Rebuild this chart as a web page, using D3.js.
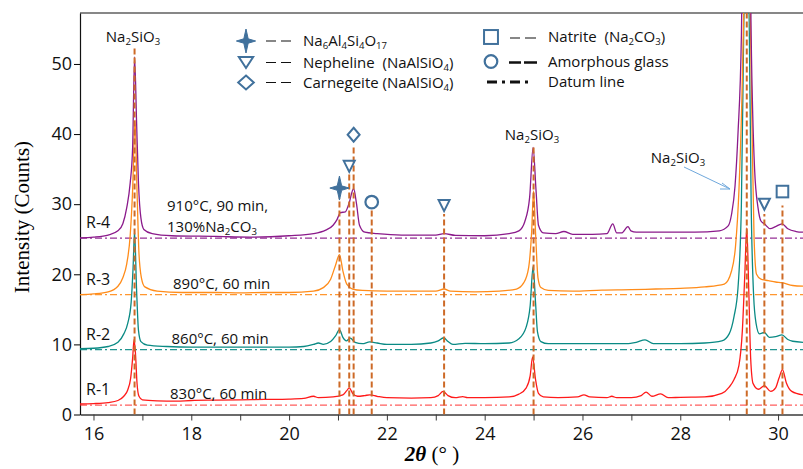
<!DOCTYPE html>
<html>
<head>
<meta charset="utf-8">
<script src="https://cdn.jsdelivr.net/npm/d3@7"></script>
<style>
  body { margin: 0; background: #fff; }
  svg text { font-family: "Open Sans", Lato, sans-serif; }
</style>
</head>
<body>
<div id="chart"></div>
<script>
// ---- data: [2theta, intensity] ----
const r1Points = [[15.72,1.5],[16.0,1.55],[16.3,1.7],[16.5,2.0],[16.62,2.6],[16.7,3.5],[16.76,5.2],[16.8,8.0],[16.83,10.7],[16.86,8.5],[16.89,4.5],[16.93,2.6],[17.0,2.1],[17.3,1.95],[17.7,1.9],[18.0,2.0],[18.5,2.05],[19.0,2.1],[19.5,2.15],[20.0,2.2],[20.3,2.3],[20.5,2.6],[20.6,2.4],[20.9,2.5],[21.1,2.8],[21.18,3.4],[21.23,3.8],[21.3,3.0],[21.4,2.6],[21.55,2.7],[21.65,2.8],[21.8,2.6],[22.0,2.4],[22.5,2.35],[22.9,2.4],[23.05,2.7],[23.15,3.3],[23.25,2.7],[23.4,2.4],[23.55,2.55],[23.65,2.4],[24.0,2.4],[24.5,2.5],[24.7,2.9],[24.85,3.8],[24.93,5.5],[24.98,8.2],[25.04,5.0],[25.1,3.0],[25.2,2.5],[25.5,2.4],[25.9,2.5],[26.03,2.8],[26.15,2.5],[26.5,2.4],[26.6,2.6],[26.7,2.4],[27.0,2.4],[27.2,2.7],[27.3,3.2],[27.42,2.6],[27.6,2.95],[27.75,2.4],[28.0,2.45],[28.5,2.5],[28.85,3.0],[29.0,3.9],[29.1,5.0],[29.2,7.0],[29.27,12],[29.32,20],[29.36,26.6],[29.4,18],[29.44,8],[29.49,4.4],[29.6,3.6],[29.72,4.1],[29.85,3.3],[29.95,3.8],[30.02,5.2],[30.09,6.4],[30.17,4.5],[30.28,3.3],[30.51,2.8]];
const r2Points = [[15.72,9.4],[16.0,9.45],[16.3,9.7],[16.5,10.3],[16.62,11.5],[16.7,13.0],[16.77,16],[16.81,21],[16.84,26.1],[16.88,18],[16.92,12],[16.97,10.4],[17.1,9.9],[17.5,9.7],[18.0,9.6],[18.5,9.6],[19.0,9.6],[19.5,9.6],[20.0,9.6],[20.3,9.7],[20.5,10.0],[20.6,10.2],[20.7,10.0],[20.85,10.4],[20.95,11.2],[21.03,12.1],[21.1,11.0],[21.17,10.5],[21.25,10.9],[21.35,10.3],[21.5,10.1],[21.65,10.35],[21.8,10.2],[22.0,10.0],[22.5,10.0],[22.9,10.2],[23.05,10.5],[23.16,10.95],[23.25,10.4],[23.35,10.0],[23.6,10.15],[24.0,10.1],[24.5,10.2],[24.7,10.8],[24.85,12.5],[24.93,15.5],[24.99,21.1],[25.04,16],[25.08,11.8],[25.15,10.4],[25.3,10.1],[25.8,10.1],[26.2,10.1],[26.9,10.1],[27.1,10.3],[27.28,10.65],[27.45,10.1],[28.0,10.1],[28.5,10.2],[28.85,10.5],[29.0,11.5],[29.1,14],[29.18,18],[29.25,30],[29.3,56],[29.36,75],[29.41,56],[29.45,30],[29.5,17],[29.55,13],[29.62,11.5],[29.72,11.7],[29.82,11.0],[29.95,11.1],[30.08,11.35],[30.2,10.7],[30.3,10.45],[30.51,10.3]];
const r3Points = [[15.72,17.1],[16.0,17.2],[16.3,17.5],[16.5,18.3],[16.6,19.5],[16.68,21.5],[16.75,25.5],[16.8,32],[16.85,42],[16.89,32],[16.93,23],[16.98,19.5],[17.05,18.2],[17.3,17.6],[17.8,17.4],[18.5,17.4],[19.0,17.35],[19.5,17.4],[20.0,17.4],[20.5,17.6],[20.7,18.1],[20.85,19.3],[20.95,21.3],[21.03,22.8],[21.1,20.5],[21.18,18.6],[21.3,17.9],[21.5,17.7],[22.0,17.6],[22.5,17.6],[23.0,17.6],[23.17,17.9],[23.3,17.6],[23.8,17.5],[24.3,17.6],[24.65,17.9],[24.8,18.8],[24.9,21],[24.96,26],[25.0,31.9],[25.04,26],[25.09,19.5],[25.15,18.1],[25.3,17.7],[25.8,17.6],[26.4,17.75],[27.0,17.8],[27.5,17.9],[28.0,18.0],[28.5,18.2],[28.9,18.6],[29.05,20.5],[29.13,24],[29.2,32],[29.26,45],[29.3,58],[29.37,80],[29.43,58],[29.47,40],[29.51,25],[29.56,20],[29.65,19.3],[29.8,19.1],[29.95,18.9],[30.08,18.8],[30.3,18.4],[30.51,18.3]];
const r4Points = [[15.72,25.2],[16.0,25.3],[16.3,25.6],[16.5,26.2],[16.6,27.2],[16.68,29.5],[16.75,33],[16.8,38],[16.84,51],[16.88,42],[16.92,33],[16.97,28],[17.03,26.4],[17.2,25.8],[17.6,25.5],[18.5,25.4],[19.2,25.3],[20.0,25.5],[20.5,25.8],[20.75,26.3],[20.9,27.0],[20.98,27.8],[21.05,28.8],[21.15,28.9],[21.22,30],[21.32,32.2],[21.38,30],[21.44,27],[21.55,26.0],[21.8,25.8],[22.3,25.6],[23.0,25.6],[23.17,25.8],[23.4,25.55],[24.0,25.5],[24.5,25.8],[24.7,26.2],[24.82,27.5],[24.92,31],[24.99,38.1],[25.05,32],[25.1,27],[25.2,25.9],[25.45,25.8],[25.62,26.1],[25.8,25.7],[26.2,25.7],[26.5,25.8],[26.62,27.2],[26.7,25.9],[26.8,25.9],[26.93,26.8],[26.99,26.2],[27.1,26.0],[27.6,26.0],[28.3,26.0],[28.8,26.2],[28.98,26.9],[29.05,28.6],[29.12,32.6],[29.18,40],[29.25,54],[29.3,80],[29.37,110],[29.45,54],[29.52,35],[29.59,29.5],[29.65,27.6],[29.72,27.2],[29.84,26.5],[29.95,26.8],[30.08,27.2],[30.2,26.5],[30.37,26.1],[30.51,26.0]];

const seriesNames  = ['R-1', 'R-2', 'R-3', 'R-4'];
const seriesColors = ['#ff1a1a', '#0a8a84', '#ff8c1a', '#8b1a8b'];
const datumLevels  = [1.35, 9.25, 17.1, 25.15];
const conditions   = [['830°C, 60 min'], ['860°C, 60 min'], ['890°C, 60 min'], ['910°C, 90 min,', '130%Na2CO3']];

// reference lines: position, top value (intensity), marker
const refPos     = [16.84, 21.03, 21.23, 21.32, 21.69, 23.17, 25.0, 29.36, 29.72, 30.09];
const refTop     = [52.5, 30.9, 34.3, 38.5, 29.2, 28.6, 38.5, 57.3, 28.6, 29.8];
const refMarker  = [null, 'star', 'tri', 'diamond', 'circle', 'tri', null, null, 'tri', 'square'];
const refMarkerY = [null, 32.3, 35.4, 39.9, 30.3, 29.8, null, null, 30.0, 31.8];

const xTicks = d3.range(16, 31, 1);
const yTicks = [0, 10, 20, 30, 40, 50];

// ---- layout ----
const W = 803, H = 469;
const x = d3.scaleLinear().domain([15.724, 30.51]).range([80, 803]);
const y = d3.scaleLinear().domain([0, 57.27]).range([414.5, 13]);
const refColor = '#cd6a27';
const mkColor  = '#41719c';
const fs = 15;

const svg = d3.select('#chart').append('svg').attr('width', W).attr('height', H);

svg.append('defs').append('clipPath').attr('id', 'plot')
  .append('rect').attr('x', 80).attr('y', 13).attr('width', W - 80).attr('height', 414.5 - 13);

// chemical formula helper: digits following a letter become subscripts
function chem(sel, str, size) {
  const parts = str.match(/\d+|[^\d]+/g);
  let shift = 0;
  parts.forEach((p, i) => {
    const isSub = /^\d+$/.test(p) && i > 0 && /[A-Za-z)]$/.test(parts[i - 1]);
    const target = isSub ? size * 0.22 : 0;
    sel.append('tspan')
      .attr('font-size', isSub ? size * 0.64 : size)
      .attr('dy', target - shift)
      .text(p);
    shift = target;
  });
  return sel;
}

// symbols
function star(r, w) {
  return `M0,${-r}L${w},${-w}L${r * 0.8},0L${w},${w}L0,${r}L${-w},${w}L${-r * 0.8},0L${-w},${-w}Z`;
}
function drawMarker(g, type, cx, cy, s) {
  s = s || 1;
  if (type === 'star') {
    g.append('path').attr('d', star(12 * s, 2.2 * s)).attr('transform', `translate(${cx},${cy})`)
      .attr('fill', mkColor).attr('stroke', mkColor).attr('stroke-width', 1);
  } else if (type === 'tri') {
    const w = 5.5 * s, h = 11;
    g.append('path').attr('d', `M${-w},${-h / 2}L${w},${-h / 2}L0,${h / 2}Z`)
      .attr('transform', `translate(${cx},${cy})`)
      .attr('fill', 'none').attr('stroke', mkColor).attr('stroke-width', 2);
  } else if (type === 'diamond') {
    g.append('path').attr('d', `M0,-7L${6 * s},0L0,7L${-6 * s},0Z`)
      .attr('transform', `translate(${cx},${cy})`)
      .attr('fill', 'none').attr('stroke', mkColor).attr('stroke-width', 2);
  } else if (type === 'circle') {
    g.append('circle').attr('cx', cx).attr('cy', cy).attr('r', 6.3)
      .attr('fill', 'none').attr('stroke', mkColor).attr('stroke-width', 2.2);
  } else if (type === 'square') {
    const a = 5.8 * s;
    g.append('rect').attr('x', cx - a).attr('y', cy - a).attr('width', 2 * a).attr('height', 2 * a)
      .attr('fill', 'none').attr('stroke', mkColor).attr('stroke-width', 2);
  }
}

// ---- axes ----
const xAxis = svg.append('g').attr('transform', 'translate(0,414.5)')
  .call(d3.axisBottom(x).tickValues(xTicks).tickSize(6).tickSizeOuter(0)
    .tickFormat(d => d % 2 === 0 ? d : ''));
xAxis.select('.domain').attr('stroke', '#3a3a3a').attr('stroke-width', 1.6);
xAxis.selectAll('.tick line').attr('stroke', '#3a3a3a');
xAxis.selectAll('text').attr('font-family', '"Liberation Sans", Arial, sans-serif')
  .attr('font-size', 18).attr('fill', '#111').attr('dy', '0.9em');

const yAxis = svg.append('g').attr('transform', 'translate(80,0)')
  .call(d3.axisLeft(y).tickValues(yTicks).tickSize(6).tickSizeOuter(0));
yAxis.select('.domain').attr('stroke', '#111').attr('stroke-width', 1.2);
yAxis.selectAll('text').attr('font-family', '"Liberation Sans", Arial, sans-serif')
  .attr('font-size', 18).attr('fill', '#111').attr('x', -8);

svg.append('line').attr('x1', 80).attr('x2', W).attr('y1', 13).attr('y2', 13)
  .attr('stroke', '#111').attr('stroke-width', 1.2);

// axis titles
svg.append('text').attr('transform', 'translate(29,217) rotate(-90)')
  .attr('text-anchor', 'middle').attr('font-size', 21)
  .style('font-family', '"Liberation Serif", "Times New Roman", serif')
  .text('Intensity (Counts)');
const xt = svg.append('text').attr('x', 432).attr('y', 461).attr('text-anchor', 'middle')
  .style('font-family', '"Liberation Serif", "Times New Roman", serif').attr('font-size', 21);
xt.append('tspan').attr('font-weight', 'bold').attr('font-style', 'italic').text('2θ');
xt.append('tspan').text(' (°  )');

// ---- plot ----
const plot = svg.append('g').attr('clip-path', 'url(#plot)');
const allSeries = [r1Points, r2Points, r3Points, r4Points];

// datum lines
datumLevels.forEach((v, i) => {
  plot.append('line').attr('x1', 80).attr('x2', W).attr('y1', y(v)).attr('y2', y(v))
    .attr('stroke', seriesColors[i]).attr('stroke-width', 1.2)
    .attr('stroke-dasharray', '7,3,2,3').attr('opacity', i === 0 ? 0.7 : 0.9);
});

const line = d3.line().x(d => x(d[0])).y(d => y(d[1])).curve(d3.curveMonotoneX);
allSeries.forEach((pts, i) => {
  plot.append('path').datum(pts).attr('d', line)
    .attr('fill', 'none').attr('stroke', seriesColors[i]).attr('stroke-width', 1.3);
});

// reference dashed lines
refPos.forEach((p, i) => {
  plot.append('line').attr('x1', x(p)).attr('x2', x(p)).attr('y1', y(0)).attr('y2', y(refTop[i]))
    .attr('stroke', refColor).attr('stroke-width', 2).attr('stroke-dasharray', '6,3');
});
refPos.forEach((p, i) => {
  if (refMarker[i]) drawMarker(svg, refMarker[i], x(p), y(refMarkerY[i]));
});

// series labels
seriesNames.forEach((n, i) => {
  svg.append('text').attr('x', 86).attr('y', y(datumLevels[i]) - 10).attr('font-size', 16)
    .attr('fill', '#111').text(n);
  conditions[i].forEach((c, k) => {
    const t = svg.append('text').attr('x', i === 3 ? 167 : 170 + i * 1.5)
      .attr('y', y(datumLevels[i]) - 6 - (conditions[i].length - 1 - k) * 21)
      .attr('font-size', fs).attr('fill', '#111');
    chem(t, c, fs);
  });
});

// phase labels
[[133, 42], [532, 140], [678, 163]].forEach(([lx, ly]) => {
  chem(svg.append('text').attr('x', lx).attr('y', ly).attr('text-anchor', 'middle')
    .attr('font-size', fs).attr('fill', '#111'), 'Na2SiO3', fs);
});

// arrow
svg.append('line').attr('x1', 684).attr('y1', 167).attr('x2', 730).attr('y2', 189)
  .attr('stroke', '#6fa8dc').attr('stroke-width', 1);
svg.append('path').attr('d', 'M722,183L730,189L720,189')
  .attr('fill', 'none').attr('stroke', '#6fa8dc').attr('stroke-width', 1);

// ---- legend ----
const leg = svg.append('g');
const legRowsL = [['star', 'Na6Al4Si4O17', 41], ['tri', 'Nepheline  (NaAlSiO4)', 62.5], ['diamond', 'Carnegeite (NaAlSiO4)', 82.5]];
legRowsL.forEach(([m, label, cy]) => {
  drawMarker(leg, m, 246, cy, m === 'star' ? 1 : 1.3);
  leg.append('path').attr('d', `M266,${cy}h10M281,${cy}h10`).attr('stroke', '#111').attr('stroke-width', 1.2);
  chem(leg.append('text').attr('x', 303).attr('y', cy + 5).attr('font-size', fs).attr('fill', '#111')
    .style('white-space', 'pre'), label, fs);
});
const legRowsR = [['square', 'Natrite  (Na2CO3)', 37], ['circle', 'Amorphous glass', 61.5], [null, 'Datum line', 82]];
legRowsR.forEach(([m, label, cy], k) => {
  if (m) drawMarker(leg, m, 491, cy, 1.2);
  if (k === 0) leg.append('path').attr('d', `M510,${cy + 1}h10M525,${cy + 1}h11`).attr('stroke', '#111').attr('stroke-width', 1.2);
  if (k === 1) leg.append('path').attr('d', `M509,${cy + 1}h12M524,${cy + 1}h13`).attr('stroke', '#111').attr('stroke-width', 2.4);
  if (k === 2) leg.append('path').attr('d', `M487,${cy}h10M502,${cy}h3M510,${cy}h10M525,${cy}h3`).attr('stroke', '#111').attr('stroke-width', 3);
  chem(leg.append('text').attr('x', 548).attr('y', cy + 5).attr('font-size', fs).attr('fill', '#111')
    .style('white-space', 'pre'), label, fs);
});
</script>
</body>
</html>
